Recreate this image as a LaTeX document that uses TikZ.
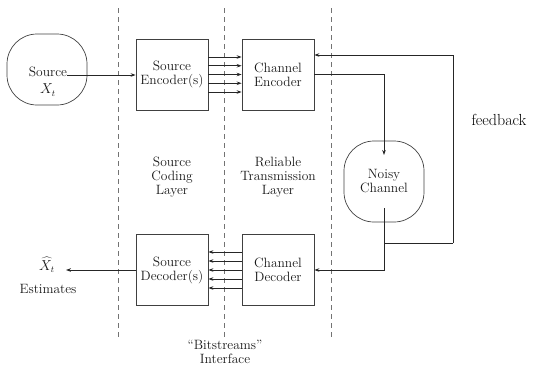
\documentclass[tikz,border=0pt]{standalone}
\usetikzlibrary{arrows.meta}
\begin{document}
\begin{tikzpicture}[x=1pt,y=-1pt,
  every node/.style={font=\fontsize{13.5}{14}\selectfont, text=black!90, align=center, inner sep=0pt},
  box/.style={draw=black!75, line width=0.8pt, minimum width=72pt, minimum height=71pt},
  roundbox/.style={draw=black!75, line width=0.7pt, rounded corners=30pt, minimum width=80pt, minimum height=72pt},
  divider/.style={draw=black!55, dash pattern=on 5pt off 4pt, line width=0.9pt},
  arr/.style={draw=black!85, line width=0.8pt, -{Stealth[length=5pt,width=3.6pt]}},
  ln/.style={draw=black!85, line width=0.8pt}]
\useasboundingbox (0,0) rectangle (535,365);
% dividers
\coordinate (d1t) at (118,8);   \coordinate (d1b) at (118,337);
\coordinate (d2t) at (224,8);   \coordinate (d2b) at (224,337);
\coordinate (d3t) at (331,8);   \coordinate (d3b) at (331,337);
\draw[divider] (d1t) -- (d1b);
\draw[divider] (d2t) -- (d2b);
\draw[divider] (d3t) -- (d3b);
% nodes
\node[roundbox, minimum height=71pt] (src) at (47,69.5) {};
\node (srctxt) at (48,72) {Source};
\node (srcx) at (48,90) {$X_t$};
\node[box] (senc) at (172,74.5) {Source\\Encoder(s)};
\node[box] (cenc) at (278,74.5) {Channel\\Encoder};
\node[roundbox, minimum height=81pt] (noisy) at (384,181.5) {Noisy\\Channel};
\node[box] (sdec) at (172,270) {Source\\Decoder(s)};
\node[box] (cdec) at (278,270) {Channel\\Decoder};
\node (scl) at (172,177) {Source\\Coding\\Layer};
\node (rtl) at (278,177) {Reliable\\Transmission\\Layer};
\node (bits) at (225,352) {``Bitstreams''\\Interface};
\node (xhat) at (47,265) {$\widehat{X}_t$};
\node (est) at (48,289) {Estimates};
\node[font=\fontsize{16}{18}\selectfont, text=black] (fb) at (499,120) {feedback};
\coordinate (nin) at (384,155);
\coordinate (nout) at (384,208);
\coordinate (outend) at (66,270);
% connectors
\draw[arr] (srctxt.east |- 0,75) -- (senc.west |- 0,75);
\foreach \d in {-17.5,-8.75,0,8.75,17.5}
  \draw[arr] ([yshift=\d pt]senc.east) -- ([yshift=\d pt]cenc.west);
\foreach \d in {-18,-9,0,9,18}
  \draw[arr] ([yshift=\d pt]cdec.west) -- ([yshift=\d pt]sdec.east);
\draw[arr] (cenc.east) -| (nin);
\draw[arr] (nout) |- (cdec.east);
\coordinate (fbj) at (384,243);
\coordinate (fbc) at (453,243);
\draw[ln] (fbj) -- (fbc);
\draw[arr] (fbc) |- ([yshift=19.5pt]cenc.east);
\draw[arr] (sdec.west) -- (outend);
\end{tikzpicture}
\end{document}
